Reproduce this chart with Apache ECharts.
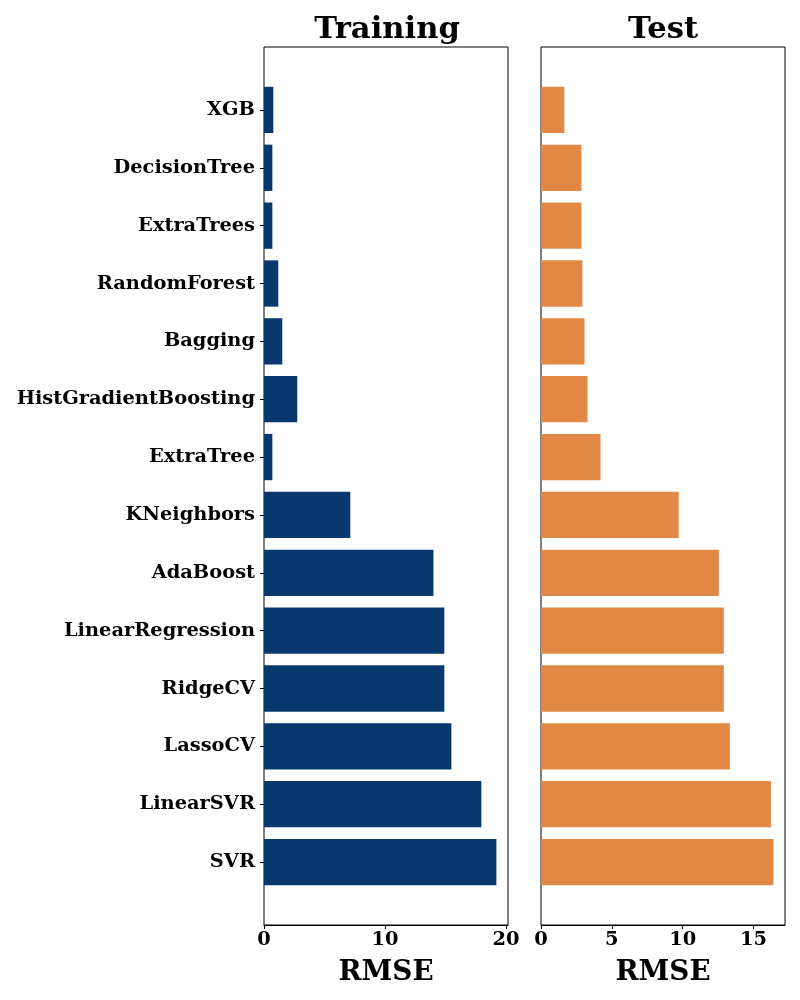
<!DOCTYPE html>
<html>
<head>
<meta charset="utf-8">
<script src="https://cdn.jsdelivr.net/npm/echarts@6/dist/echarts.min.js"></script>
<style>
html, body { margin: 0; padding: 0; background: #fff; }
#chart { width: 800px; height: 1000px; }
</style>
</head>
<body>
<div id="chart"></div>
<script>
var models = ['XGB', 'DecisionTree', 'ExtraTrees', 'RandomForest', 'Bagging', 'HistGradientBoosting',
	'ExtraTree', 'KNeighbors', 'AdaBoost', 'LinearRegression', 'RidgeCV', 'LassoCV', 'LinearSVR', 'SVR'];
var trainRmse = [0.77, 0.69, 0.69, 1.18, 1.51, 2.75, 0.69, 7.13, 14.0, 14.9, 14.9, 15.48, 17.96, 19.2];
var testRmse = [1.65, 2.85, 2.85, 2.92, 3.07, 3.28, 4.2, 9.72, 12.55, 12.9, 12.9, 13.33, 16.23, 16.4];
var trainTicks = [0, 10, 20];
var testTicks = [0, 5, 10, 15];

var FONT = 'DejaVu Serif';
var chart;

initChart();

// frame grids carry the box, bar grids sit inside with the matplotlib-like margins
function frameAxes(idx) {
	return {
		x: { gridIndex: idx, type: 'value', show: false },
		y: { gridIndex: idx, type: 'value', show: false }
	};
}

function xAxisFor(idx, vals, ticks) {
	return {
		gridIndex: idx,
		type: 'value',
		min: 0,
		max: Math.max.apply(null, vals) * 1.05,
		offset: 34,
		name: 'RMSE',
		nameLocation: 'middle',
		nameGap: 34,
		nameTextStyle: { fontFamily: FONT, fontWeight: 'bold', fontSize: 27.8, color: '#000' },
		axisLine: { show: true, lineStyle: { color: '#000', width: 1 } },
		axisTick: { show: true, length: 4, customValues: ticks, lineStyle: { color: '#000' } },
		axisLabel: { customValues: ticks, fontFamily: FONT, fontWeight: 'bold', fontSize: 19.4, color: '#000', margin: 5 },
		splitLine: { show: false }
	};
}

function yAxisFor(idx, showLabels) {
	return {
		gridIndex: idx,
		type: 'category',
		inverse: true,
		data: models,
		axisLine: { show: false },
		axisTick: { show: showLabels, alignWithLabel: true, length: 4, lineStyle: { color: '#000' } },
		axisLabel: {
			show: showLabels,
			interval: 0,
			padding: [4, 0, 0, 0],
			fontFamily: FONT, fontWeight: 'bold', fontSize: 19.4, color: '#000', margin: 9
		},
		splitLine: { show: false }
	};
}

function initChart() {
	chart = echarts.init(document.getElementById('chart'));
	var f0 = frameAxes(2), f1 = frameAxes(3);
	var option = {
		animation: false,
		backgroundColor: '#fff',
		title: [{
			text: 'Training', left: 382, top: 10, textAlign: 'center',
			textStyle: { fontFamily: FONT, fontWeight: 'bold', fontSize: 30.6, color: '#000' }
		}, {
			text: 'Test', left: 658, top: 10, textAlign: 'center',
			textStyle: { fontFamily: FONT, fontWeight: 'bold', fontSize: 30.6, color: '#000' }
		}],
		grid: [
			{ left: 264, top: 81, width: 244, height: 810 },
			{ left: 541, top: 81, width: 244, height: 810 },
			{ left: 264, top: 47, width: 244, height: 878, show: true, borderColor: '#000', borderWidth: 1 },
			{ left: 541, top: 47, width: 244, height: 878, show: true, borderColor: '#000', borderWidth: 1 }
		],
		xAxis: [xAxisFor(0, trainRmse, trainTicks), xAxisFor(1, testRmse, testTicks), f0.x, f1.x],
		yAxis: [yAxisFor(0, true), yAxisFor(1, false), f0.y, f1.y],
		series: [{
			type: 'bar',
			name: 'Training',
			xAxisIndex: 0,
			yAxisIndex: 0,
			barWidth: '80%',
			itemStyle: { color: '#08386e' },
			data: trainRmse
		}, {
			type: 'bar',
			name: 'Test',
			xAxisIndex: 1,
			yAxisIndex: 1,
			barWidth: '80%',
			itemStyle: { color: '#e28845' },
			data: testRmse
		}]
	};
	chart.setOption(option);
}
</script>
</body>
</html>
